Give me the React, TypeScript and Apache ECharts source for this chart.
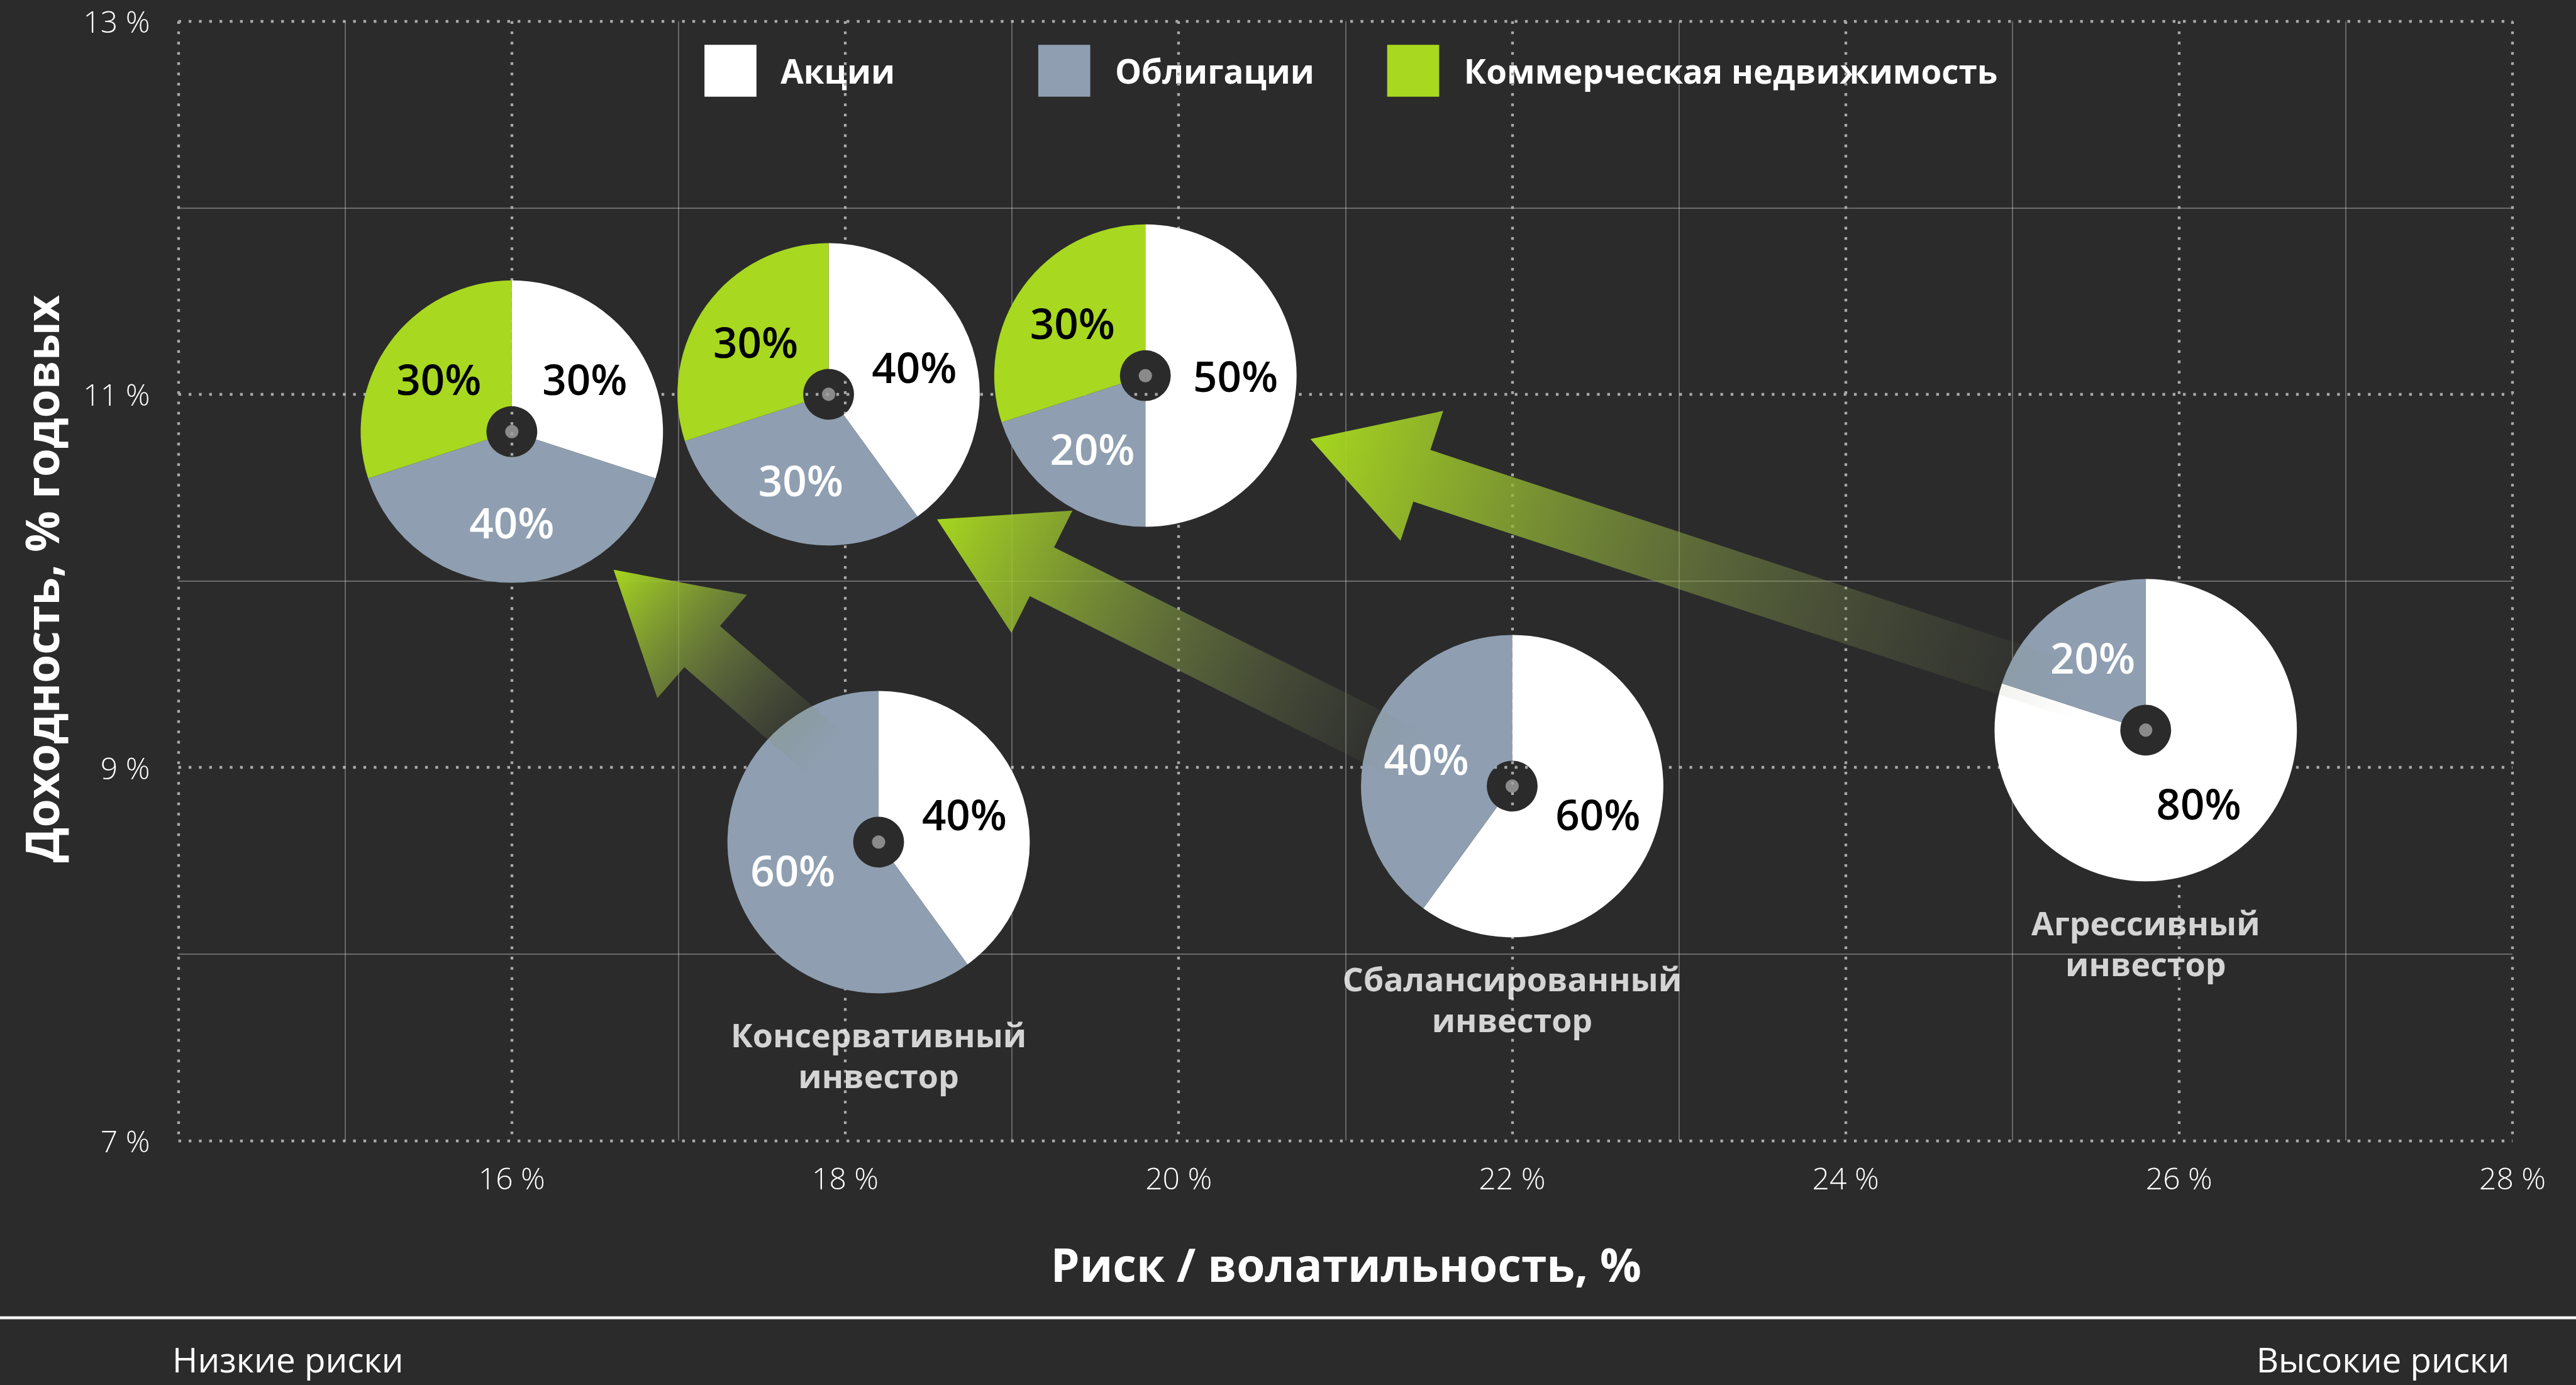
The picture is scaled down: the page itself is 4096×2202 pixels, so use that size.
import React, { useEffect, useRef } from "react";
import * as echarts from "echarts";

// ---------- data ----------
const riskValues = [16.0, 17.9, 19.8, 18.2, 22.0, 25.8];
const returnValues = [10.8, 11.0, 11.1, 8.6, 8.9, 9.2];
const stocksShare = [30, 40, 50, 40, 60, 80];
const bondsShare = [40, 30, 20, 60, 40, 20];
const realEstateShare = [30, 30, 30, 0, 0, 0];
const investorNames = [
  "",
  "",
  "",
  "Консервативный\nинвестор",
  "Сбалансированный\nинвестор",
  "Агрессивный\nинвестор",
];
const assetNames = ["Акции", "Облигации", "Коммерческая недвижимость"];
const assetColors = ["#ffffff", "#8f9fb1", "#a8d81f"];
const assetLabelColors = ["#000000", "#ffffff", "#000000"];

// arrows: tail (risk, return) -> tip (risk, return)
const arrowTailRisk = [17.9, 21.42, 25.41];
const arrowTailReturn = [9.06, 9.05, 9.4];
const arrowTipRisk = [16.61, 18.55, 20.79];
const arrowTipReturn = [10.06, 10.33, 10.76];

const X_MIN = 14;
const X_MAX = 28;
const X_STEP = 2;
const Y_MIN = 7;
const Y_MAX = 13;
const Y_STEP = 2;

const xTitle = "Риск / волатильность, %";
const yTitle = "Доходность, % годовых";
const lowRiskText = "Низкие риски";
const highRiskText = "Высокие риски";

// ---------- layout ----------
const W = 4096;
const H = 2202;
const S = W / 4260;
const px = (v: number) => v * S;
const FONT = '"Open Sans", "Noto Sans", "DejaVu Sans", sans-serif';
const BG = "#2b2b2b";

export default function App() {
  const ref = useRef<HTMLDivElement>(null);

  useEffect(() => {
    document.body.style.margin = "0";
    const el = ref.current;
    if (!el) return;
    const chart = echarts.init(el, undefined, { renderer: "svg" });

    const legendSquareX = [1165, 1717, 2294];
    const legendTextX = [1291, 1844, 2421];
    const legendGraphics: any[] = [];
    assetNames.forEach((n, i) => {
      legendGraphics.push({
        type: "rect",
        shape: { x: px(legendSquareX[i]), y: px(74), width: px(86), height: px(86) },
        style: { fill: assetColors[i] },
        silent: true,
      });
      legendGraphics.push({
        type: "text",
        x: px(legendTextX[i]),
        y: px(117),
        style: {
          text: n,
          fill: "#ffffff",
          fontFamily: FONT,
          fontWeight: 700,
          fontSize: px(55),
          align: "left",
          verticalAlign: "middle",
        },
        silent: true,
      });
    });

    const baseOption: any = {
      animation: false,
      backgroundColor: BG,
      grid: {
        left: px(295),
        right: W - px(4155),
        top: px(35),
        bottom: H - px(1886),
        containLabel: false,
      },
      xAxis: {
        type: "value",
        min: X_MIN,
        max: X_MAX,
        interval: X_STEP,
        axisLine: { show: false },
        axisTick: { show: false },
        axisLabel: {
          formatter: (v: number) => (v === X_MIN ? "" : `${v} %`),
          color: "#ffffff",
          fontFamily: FONT,
          fontWeight: 300,
          fontSize: px(50),
          margin: px(36),
        },
        splitLine: {
          show: true,
          lineStyle: { color: "#a9a9a9", width: px(4.5), type: [px(4.5), px(12.5)] },
        },
        minorTick: { show: false, splitNumber: 2 },
        minorSplitLine: {
          show: true,
          lineStyle: { color: "rgba(255,255,255,0.3)", width: px(2) },
        },
      },
      yAxis: {
        type: "value",
        min: Y_MIN,
        max: Y_MAX,
        interval: Y_STEP,
        axisLine: { show: false },
        axisTick: { show: false },
        axisLabel: {
          formatter: (v: number) => `${v} %`,
          color: "#ffffff",
          fontFamily: FONT,
          fontWeight: 300,
          fontSize: px(50),
          margin: px(47),
        },
        splitLine: {
          show: true,
          lineStyle: { color: "#a9a9a9", width: px(4.5), type: [px(4.5), px(12.5)] },
        },
        minorTick: { show: false, splitNumber: 2 },
        minorSplitLine: {
          show: true,
          lineStyle: { color: "rgba(255,255,255,0.3)", width: px(2) },
        },
      },
      graphic: [
        {
          type: "rect",
          shape: { x: 0, y: px(2176.5), width: W, height: px(5) },
          style: { fill: "#f2f2f2" },
          silent: true,
        },
        {
          type: "text",
          x: px(68),
          y: px(957),
          rotation: Math.PI / 2,
          style: {
            text: yTitle,
            fill: "#ffffff",
            fontFamily: FONT,
            fontWeight: 700,
            fontSize: px(76),
            align: "center",
            verticalAlign: "middle",
          },
          silent: true,
        },
        {
          type: "text",
          x: px(2226),
          y: px(2090),
          style: {
            text: xTitle,
            fill: "#ffffff",
            fontFamily: FONT,
            fontWeight: 700,
            fontSize: px(76),
            align: "center",
            verticalAlign: "middle",
          },
          silent: true,
        },
        {
          type: "text",
          x: px(285),
          y: px(2247),
          style: {
            text: lowRiskText,
            fill: "#ffffff",
            fontFamily: FONT,
            fontWeight: 400,
            fontSize: px(57),
            align: "left",
            verticalAlign: "middle",
          },
          silent: true,
        },
        {
          type: "text",
          x: px(4150),
          y: px(2247),
          style: {
            text: highRiskText,
            fill: "#ffffff",
            fontFamily: FONT,
            fontWeight: 400,
            fontSize: px(57),
            align: "right",
            verticalAlign: "middle",
          },
          silent: true,
        },
        ...legendGraphics,
      ],
      series: [],
    };

    chart.setOption(baseOption);

    const centers = riskValues.map((x, i) =>
      chart.convertToPixel({ gridIndex: 0 }, [x, returnValues[i]]) as number[]
    );

    const pieSeries = riskValues.map((_, i) => {
      const shares = [stocksShare[i], bondsShare[i], realEstateShare[i]];
      const data = shares
        .map((v, k) => ({
          value: v,
          name: assetNames[k],
          itemStyle: { color: assetColors[k] },
          label: { color: assetLabelColors[k] },
        }))
        .filter((d) => d.value > 0);
      return {
        type: "pie",
        z: 2,
        silent: true,
        center: centers[i],
        radius: [px(42), px(250)],
        startAngle: 90,
        clockwise: true,
        avoidLabelOverlap: false,
        label: {
          show: true,
          position: "inside",
          formatter: "{c}%",
          fontFamily: FONT,
          fontWeight: 600,
          fontSize: px(70),
        },
        labelLine: { show: false },
        emphasis: { disabled: true },
        data,
      };
    });

    const arrowData = arrowTailRisk.map((x, i) => [
      x,
      arrowTailReturn[i],
      arrowTipRisk[i],
      arrowTipReturn[i],
    ]);

    const arrowSeries = {
      type: "custom",
      coordinateSystem: "cartesian2d",
      z: 3,
      silent: true,
      clip: false,
      encode: { x: [0, 2], y: [1, 3] },
      data: arrowData,
      renderItem: (params: any, api: any) => {
        const t = api.coord([api.value(0), api.value(1)]);
        const h = api.coord([api.value(2), api.value(3)]);
        const dx = h[0] - t[0];
        const dy = h[1] - t[1];
        const len = Math.hypot(dx, dy);
        const ux = dx / len;
        const uy = dy / len;
        const nx = -uy;
        const ny = ux;
        const HL = px(194);
        const HW = px(113);
        const SW = px(45);
        const bx = h[0] - ux * HL;
        const by = h[1] - uy * HL;
        const points = [
          [t[0] + nx * SW, t[1] + ny * SW],
          [bx + nx * SW, by + ny * SW],
          [bx + nx * HW, by + ny * HW],
          [h[0], h[1]],
          [bx - nx * HW, by - ny * HW],
          [bx - nx * SW, by - ny * SW],
          [t[0] - nx * SW, t[1] - ny * SW],
        ];
        return {
          type: "polygon",
          shape: { points },
          style: {
            fill: {
              type: "linear",
              x: t[0],
              y: t[1],
              x2: h[0],
              y2: h[1],
              global: true,
              colorStops: [
                { offset: 0, color: "rgba(115,125,95,0)" },
                { offset: 0.5, color: "rgba(140,165,70,0.5)" },
                { offset: 1, color: "rgba(166,214,30,1)" },
              ],
            },
          },
        };
      },
    };

    const LABEL_LH = 68;
    const dotSeries = {
      type: "scatter",
      z: 4,
      silent: true,
      symbol: "circle",
      symbolSize: px(22),
      itemStyle: { color: "#a3a3a3" },
      data: riskValues.map((x, i) => ({ value: [x, returnValues[i]], name: investorNames[i] })),
      label: {
        show: true,
        position: "bottom",
        distance: px(318) - px(LABEL_LH / 2) - px(11),
        formatter: "{b}",
        color: "#ffffff",
        fontFamily: FONT,
        fontWeight: 700,
        fontSize: px(54),
        lineHeight: px(LABEL_LH),
        align: "center",
      },
      emphasis: { disabled: true },
    };

    chart.setOption({
      ...baseOption,
      series: [...pieSeries, arrowSeries, dotSeries],
    });

    return () => {
      chart.dispose();
    };
  }, []);

  return (
    <div
      ref={ref}
      style={{ position: "fixed", left: 0, top: 0, width: W, height: H }}
    />
  );
}
